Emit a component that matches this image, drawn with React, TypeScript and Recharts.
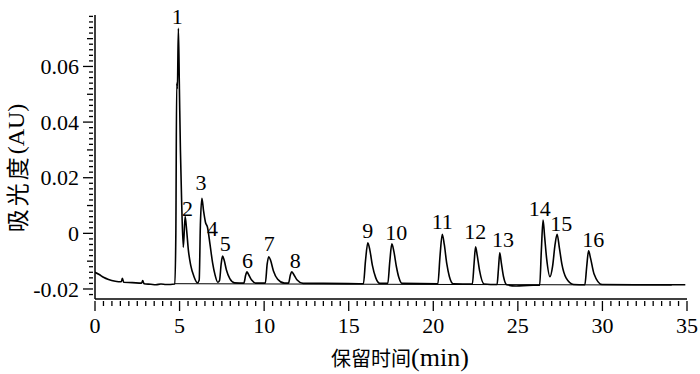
import { ComposedChart, Line, XAxis, YAxis, ReferenceDot } from 'recharts'

const SERIF = "'Liberation Serif', 'Times New Roman', Times, serif"
const CJK = "'Noto Sans CJK SC', 'Noto Sans CJK TC', sans-serif"

// retention time (min) of the trace points
const TIME = [
  0, 0.25, 0.5, 0.8, 1.2, 1.55, 1.62, 1.7, 2.2, 2.75, 2.82, 2.9, 3.3, 3.6, 3.9, 4.2, 4.72,
  4.78, 4.83, 4.87, 4.93, 4.99, 5.05, 5.12, 5.22, 5.33, 5.42, 5.52, 5.66, 5.85, 6.06,
  6.16, 6.23, 6.32, 6.42, 6.53, 6.65, 6.8, 6.95, 7.1, 7.26,
  7.36, 7.46, 7.54, 7.63, 7.77, 7.97, 8.25,
  8.8, 8.91, 8.98, 9.08, 9.26, 9.52,
  10.07, 10.18, 10.27, 10.37, 10.55, 10.8, 11.2,
  11.44, 11.55, 11.63, 11.75, 11.95, 12.3, 13.5,
  15.87, 15.99, 16.13, 16.25, 16.4, 16.6, 16.85,
  17.31, 17.43, 17.55, 17.67, 17.82, 17.97, 18.15,
  20.27, 20.4, 20.53, 20.65, 20.8, 20.95, 21.18,
  22.31, 22.41, 22.5, 22.6, 22.74, 23.0,
  23.77, 23.85, 23.93, 24.02, 24.15, 24.35, 24.9, 25.6,
  26.29, 26.39, 26.49, 26.58, 26.7, 26.9, 27.05, 27.2, 27.32, 27.45, 27.6, 27.85, 28.3,
  28.96, 29.07, 29.18, 29.3, 29.5, 29.98, 32, 34.9,
]

// absorbance (AU) at each time above
const ABSORBANCE = [
  -0.014, -0.0148, -0.0158, -0.0166, -0.0172, -0.0174, -0.0162, -0.0176, -0.0177, -0.0179, -0.0170, -0.0181, -0.0183, -0.0185, -0.0182, -0.0184, -0.0182,
  0.0, 0.054, 0.052, 0.0737, 0.052, 0.03, 0.012, -0.005, 0.006, 0.001, -0.006, -0.0115, -0.0155, -0.0178,
  -0.0168, 0.003, 0.0126, 0.008, 0.004, 0.0022, -0.004, -0.0105, -0.015, -0.0176,
  -0.017, -0.011, -0.0082, -0.0095, -0.0132, -0.0163, -0.0178,
  -0.0179, -0.015, -0.0138, -0.0148, -0.0168, -0.0179,
  -0.0179, -0.011, -0.0084, -0.0095, -0.0135, -0.0165, -0.0179,
  -0.0179, -0.015, -0.0138, -0.0148, -0.0168, -0.018, -0.018,
  -0.0181, -0.01, -0.0034, -0.006, -0.0115, -0.016, -0.018,
  -0.018, -0.01, -0.0038, -0.0065, -0.012, -0.016, -0.018,
  -0.0181, -0.008, -0.0003, -0.004, -0.011, -0.0155, -0.0181,
  -0.0182, -0.011, -0.0048, -0.008, -0.0135, -0.0182,
  -0.0184, -0.013, -0.007, -0.0105, -0.0155, -0.0185, -0.0189, -0.0187,
  -0.0186, -0.006, 0.0048, -0.001, -0.009, -0.0156, -0.012, -0.004, -0.0003, -0.005, -0.011, -0.016, -0.0184,
  -0.0185, -0.012, -0.0063, -0.009, -0.0145, -0.0184, -0.0185, -0.0185,
]

// integration baseline under the peaks
const BASELINE_TIME = [4.72, 34.1]
const BASELINE_AU = [-0.0181, -0.0186]

// peak numbers and where their labels sit
const PEAK_NO = ['1', '2', '3', '4', '5', '6', '7', '8', '9', '10', '11', '12', '13', '14', '15', '16']
const LABEL_TIME = [4.87, 5.47, 6.26, 6.95, 7.7, 9.02, 10.3, 11.84, 16.13, 17.81, 20.53, 22.48, 24.12, 26.29, 27.57, 29.45]
const LABEL_AU = [0.0782, 0.009, 0.0182, 0.0018, -0.0036, -0.0096, -0.0034, -0.0098, 0.0012, 0.0004, 0.0042, 0.0006, -0.0022, 0.009, 0.0036, -0.0022]

const X_MAJOR = [0, 5, 10, 15, 20, 25, 30, 35]
const X_TICKS = Array.from({ length: 71 }, (_, i) => i * 0.5)
const Y_MAJOR = [-0.02, 0, 0.02, 0.04, 0.06]
const Y_TICKS = Array.from({ length: 51 }, (_, i) => Math.round((-0.022 + i * 0.002) * 10000) / 10000)

const trace = TIME.map((t, i) => ({ t, au: ABSORBANCE[i] }))
const baseline = BASELINE_TIME.map((t, i) => ({ t, au: BASELINE_AU[i] }))

const serifText = { fontFamily: SERIF, fontSize: 22, fill: '#000' }

// eslint-disable-next-line @typescript-eslint/no-explicit-any
function XTick({ x, y, payload }: any) {
  const v = payload.value
  const major = X_MAJOR.some((m) => Math.abs(m - v) < 1e-9)
  return (
    <g>
      <line x1={x} x2={x} y1={y} y2={y + (major ? 10 : 5)} stroke="#000" strokeWidth={1.3} />
      {major && (
        <text x={x} y={y + 32} textAnchor="middle" style={serifText}>
          {v}
        </text>
      )}
    </g>
  )
}

// eslint-disable-next-line @typescript-eslint/no-explicit-any
function YTick({ x, y, payload }: any) {
  const v = payload.value
  const major = Y_MAJOR.some((m) => Math.abs(m - v) < 1e-9)
  const mid = Math.abs(Math.round(v * 100) - v * 100) < 1e-6
  const len = major ? 10 : mid ? 6 : 4
  return (
    <g>
      <line x1={x} x2={x - len} y1={y} y2={y} stroke="#000" strokeWidth={1.3} />
      {major && (
        <text x={x - 14} y={y} dy="0.35em" textAnchor="end" style={serifText}>
          {v === 0 ? '0' : v.toFixed(2)}
        </text>
      )}
    </g>
  )
}

export default function App() {
  return (
    <div style={{ position: 'absolute', left: 0, top: 0, width: 700, height: 374, background: '#fff' }}>
      <ComposedChart width={700} height={374} margin={{ top: 15, right: 13, bottom: 0, left: 0 }}>
        <XAxis
          type="number"
          dataKey="t"
          domain={[0, 35]}
          ticks={X_TICKS}
          interval={0}
          tickSize={0}
          tickLine={false}
          tick={<XTick />}
          height={75}
          allowDataOverflow
          axisLine={{ stroke: '#000', strokeWidth: 1.5 }}
        />
        <YAxis
          type="number"
          domain={[-0.0236, 0.0785]}
          ticks={Y_TICKS}
          interval={0}
          tickSize={0}
          tickLine={false}
          tick={<YTick />}
          width={95}
          allowDataOverflow
          axisLine={{ stroke: '#000', strokeWidth: 1.5 }}
        />
        <Line
          data={baseline}
          dataKey="au"
          type="linear"
          stroke="#000"
          strokeWidth={1}
          dot={false}
          activeDot={false}
          isAnimationActive={false}
        />
        <Line
          data={trace}
          dataKey="au"
          type="monotone"
          stroke="#000"
          strokeWidth={1.6}
          dot={false}
          activeDot={false}
          isAnimationActive={false}
        />
        {PEAK_NO.map((no, i) => (
          <ReferenceDot
            key={no}
            x={LABEL_TIME[i]}
            y={LABEL_AU[i]}
            r={0}
            ifOverflow="visible"
            // eslint-disable-next-line @typescript-eslint/no-explicit-any
            shape={(p: any) => (
              <text x={p.cx} y={p.cy} dy="0.35em" textAnchor="middle" style={serifText}>
                {no}
              </text>
            )}
          />
        ))}
      </ComposedChart>
      <svg width={700} height={374} style={{ position: 'absolute', left: 0, top: 0, pointerEvents: 'none' }}>
        <text x={400} y={366} textAnchor="middle" fill="#000">
          <tspan style={{ fontFamily: CJK, fontSize: 20 }}>保留时间</tspan>
          <tspan style={{ fontFamily: SERIF, fontSize: 26 }}>(min)</tspan>
        </text>
        <text
          x={16}
          y={168}
          transform="rotate(-90 16 168)"
          textAnchor="middle"
          dominantBaseline="central"
          fill="#000"
        >
          <tspan style={{ fontFamily: CJK, fontSize: 23, letterSpacing: 3 }}>吸光度</tspan>
          <tspan style={{ fontFamily: SERIF, fontSize: 24 }}>(AU)</tspan>
        </text>
      </svg>
    </div>
  )
}
